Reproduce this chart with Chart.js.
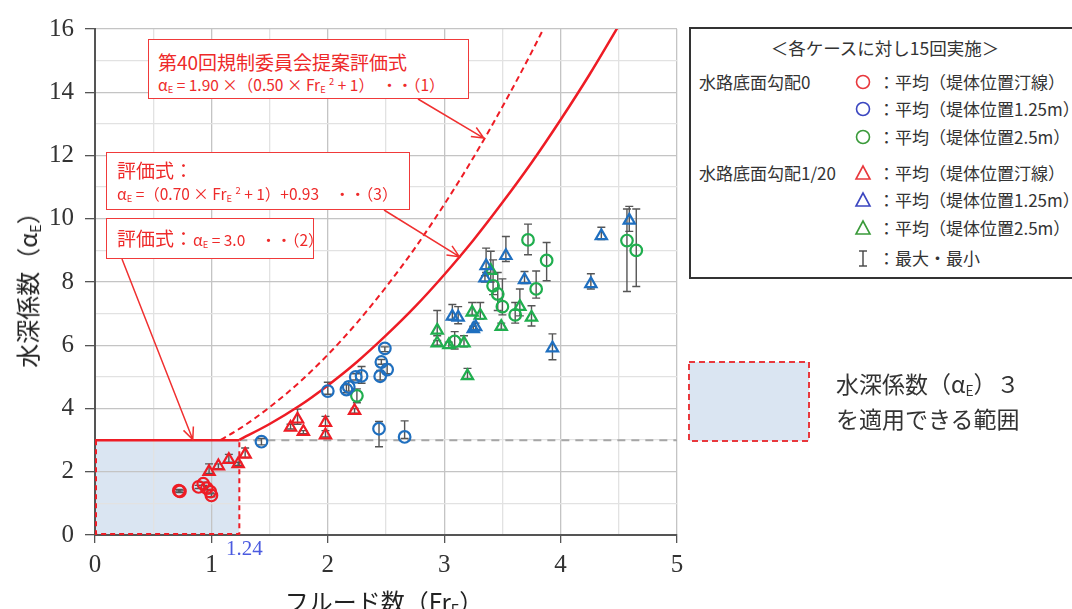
<!DOCTYPE html>
<html><head><meta charset="utf-8">
<script src="https://cdn.jsdelivr.net/npm/chart.js@4.4.0/dist/chart.umd.min.js"></script>
<style>
body{margin:0;background:#fff;}
#wrap{position:relative;width:1072px;height:609px;overflow:hidden;background:#fff;}
canvas{position:absolute;left:0;top:0;}
.t{position:absolute;white-space:nowrap;font-family:"Noto Sans CJK JP","Noto Sans",sans-serif;}
.box{position:absolute;box-sizing:border-box;background:#fff;border:1.5px solid #f03a3a;}
.red{color:#ee2a2a;}
.lg{color:#333;font-size:17px;}
sub{font-size:0.6em;vertical-align:-0.25em;line-height:0;}
sup{font-size:0.6em;vertical-align:0.6em;line-height:0;}
</style></head>
<body><div id="wrap">
<canvas id="c" width="1072" height="609"></canvas>

<!-- annotation boxes -->
<div class="box" style="left:148px;top:39px;width:321px;height:60px;"></div>
<div class="t red" style="left:158px;top:49px;line-height:26px;font-size:19px;">第40回規制委員会提案評価式</div>
<div class="t red" style="left:158px;top:73px;line-height:22px;font-size:15.5px;">α<sub>E</sub> = 1.90 ×（0.50 × Fr<sub>E</sub> <sup>2</sup> + 1）　・・（1）</div>

<div class="box" style="left:106px;top:152px;width:304px;height:58px;"></div>
<div class="t red" style="left:117px;top:157px;line-height:26px;font-size:19px;">評価式：</div>
<div class="t red" style="left:117px;top:182px;line-height:22px;font-size:15.5px;">α<sub>E</sub> =（0.70 × Fr<sub>E</sub> <sup>2</sup> + 1）+0.93　・・（3）</div>

<div class="box" style="left:106px;top:218px;width:208px;height:41px;"></div>
<div class="t red" style="left:117px;top:225px;line-height:26px;font-size:19px;">評価式：<span style="font-size:15.5px;">α<sub>E</sub> = 3.0　・・（2）</span></div>

<!-- legend box -->
<div style="position:absolute;left:689px;top:27px;width:400px;height:252px;box-sizing:border-box;border:2px solid #333;background:#fff;"></div>
<div class="t lg" style="left:689px;width:392px;text-align:center;top:36px;line-height:24px;font-size:17.5px;">＜各ケースに対し15回実施＞</div>
<div class="t lg" style="left:699px;top:70px;line-height:24px;">水路底面勾配0</div>
<div class="t lg" style="left:699px;top:161px;line-height:24px;">水路底面勾配1/20</div>

<svg style="position:absolute;left:0;top:0;" width="1072" height="609">
  <circle cx="863" cy="82" r="6.5" fill="none" stroke="#e8383d" stroke-width="1.6"/>
  <circle cx="863" cy="109" r="6.5" fill="none" stroke="#3b46c0" stroke-width="1.6"/>
  <circle cx="863" cy="137" r="6.5" fill="none" stroke="#3a9a3a" stroke-width="1.6"/>
  <polygon points="863,166 856,179 870,179" fill="none" stroke="#e8383d" stroke-width="1.6"/>
  <polygon points="863,193 856,206 870,206" fill="none" stroke="#3b46c0" stroke-width="1.6"/>
  <polygon points="863,221 856,234 870,234" fill="none" stroke="#3a9a3a" stroke-width="1.6"/>
  <line x1="863" y1="251" x2="863" y2="266" stroke="#444" stroke-width="1.4"/>
  <line x1="859" y1="251" x2="867" y2="251" stroke="#444" stroke-width="1.4"/>
  <line x1="859" y1="266" x2="867" y2="266" stroke="#444" stroke-width="1.4"/>
  <rect x="689" y="362" width="120" height="79" fill="#dae5f2" stroke="#e8383d" stroke-width="2" stroke-dasharray="6,4"/>
</svg>
<div class="t lg" style="left:878px;top:70px;line-height:24px;">：平均（堤体位置汀線）</div>
<div class="t lg" style="left:878px;top:97px;line-height:24px;">：平均（堤体位置1.25m）</div>
<div class="t lg" style="left:878px;top:125px;line-height:24px;">：平均（堤体位置2.5m）</div>
<div class="t lg" style="left:878px;top:161px;line-height:24px;">：平均（堤体位置汀線）</div>
<div class="t lg" style="left:878px;top:188px;line-height:24px;">：平均（堤体位置1.25m）</div>
<div class="t lg" style="left:878px;top:216px;line-height:24px;">：平均（堤体位置2.5m）</div>
<div class="t lg" style="left:878px;top:246px;line-height:24px;">：最大・最小</div>

<div class="t" style="left:836px;top:367px;line-height:32px;font-size:23px;color:#333;">水深係数（α<sub>E</sub>）３</div>
<div class="t" style="left:836px;top:402px;line-height:32px;font-size:23px;color:#333;">を適用できる範囲</div>

<!-- axis titles -->
<div class="t" style="left:27px;top:284px;transform:translate(-50%,-50%) rotate(-90deg);font-size:24px;color:#222;line-height:30px;">水深係数（α<sub>E</sub>）</div>
<div class="t" style="left:384px;top:586px;transform:translateX(-50%);font-size:24px;color:#222;line-height:30px;">フルード数（Fr<sub>E</sub>）</div>
</div>

<script>
// ---- data ----
// slope 0, circles
const s0ShoreX = [0.72, 0.73, 0.89, 0.93, 0.96, 0.99, 1.00];
const s0ShoreY = [1.40, 1.38, 1.52, 1.62, 1.48, 1.37, 1.25];
const s0ShoreMin = [1.36, 1.34, 1.47, 1.57, 1.44, 1.33, 1.21];
const s0ShoreMax = [1.44, 1.42, 1.57, 1.67, 1.53, 1.42, 1.30];

const s0Pos125X = [1.43, 2.00, 2.16, 2.18, 2.24, 2.29, 2.45, 2.46, 2.51, 2.49, 2.44, 2.66];
const s0Pos125Y = [2.95, 4.55, 4.60, 4.68, 5.00, 5.03, 5.02, 5.47, 5.23, 5.90, 3.36, 3.10];
const s0Pos125Min = [2.85, 4.45, 4.50, 4.55, 4.90, 4.80, 4.90, 5.40, 5.10, 5.80, 2.79, 3.05];
const s0Pos125Max = [3.05, 4.83, 4.75, 4.85, 5.10, 5.33, 5.20, 5.55, 5.40, 5.95, 3.59, 3.61];

const s0Pos25X = [2.25, 3.09, 3.42, 3.46, 3.50, 3.61, 3.72, 3.79, 3.88, 4.57, 4.65];
const s0Pos25Y = [4.40, 6.12, 7.88, 7.62, 7.22, 6.96, 9.33, 7.78, 8.68, 9.31, 9.00];
const s0Pos25Min = [4.18, 5.88, 7.60, 7.10, 6.96, 6.70, 8.86, 7.49, 8.04, 7.70, 7.86];
const s0Pos25Max = [4.62, 6.43, 8.70, 8.30, 8.10, 7.35, 9.83, 8.35, 9.25, 10.31, 10.31];

// slope 1/20, triangles
const s20ShoreX = [0.98, 1.06, 1.15, 1.23, 1.29, 1.68, 1.74, 1.79, 1.98, 1.98, 2.23];
const s20ShoreY = [2.00, 2.18, 2.38, 2.25, 2.55, 3.40, 3.66, 3.27, 3.55, 3.16, 3.93];
const s20ShoreMin = [1.95, 2.10, 2.30, 2.20, 2.45, 3.35, 3.50, 3.20, 3.45, 3.10, 3.85];
const s20ShoreMax = [2.25, 2.25, 2.55, 2.30, 2.75, 3.50, 3.98, 3.30, 3.75, 3.30, 4.00];

const s20Pos125X = [3.07, 3.12, 3.25, 3.27, 3.35, 3.36, 3.53, 3.69, 3.93, 4.26, 4.35, 4.59];
const s20Pos125Y = [6.91, 6.88, 6.52, 6.58, 8.12, 8.51, 8.83, 8.07, 5.91, 7.94, 9.46, 9.95];
const s20Pos125Min = [6.80, 6.68, 6.45, 6.50, 8.00, 8.30, 8.65, 7.95, 5.54, 7.78, 9.34, 9.60];
const s20Pos125Max = [7.29, 7.22, 6.60, 6.70, 8.20, 9.07, 9.44, 8.33, 6.36, 8.26, 9.73, 10.39];

const s20Pos25X = [2.94, 2.94, 3.04, 3.17, 3.20, 3.24, 3.31, 3.40, 3.49, 3.65, 3.75];
const s20Pos25Y = [6.47, 6.07, 6.01, 6.07, 5.03, 7.04, 6.94, 8.36, 6.59, 7.22, 6.88];
const s20Pos25Min = [6.30, 6.00, 5.90, 5.95, 4.95, 6.95, 6.83, 8.00, 6.50, 6.93, 6.61];
const s20Pos25Max = [7.10, 6.15, 6.10, 6.30, 5.27, 7.35, 7.35, 8.97, 6.70, 7.78, 7.25];

// evaluation curves
const curve1X = [1.08, 1.25, 1.5, 1.75, 2.0, 2.25, 2.5, 2.75, 3.0, 3.25, 3.5, 3.75, 4.0];
const curve1Y = [3.01, 3.38, 4.04, 4.81, 5.70, 6.71, 7.84, 9.08, 10.45, 11.93, 13.54, 15.26, 17.10];
const curve3X = [1.24, 1.5, 1.75, 2.0, 2.25, 2.5, 2.75, 3.0, 3.25, 3.5, 3.75, 4.0, 4.25, 4.5];
const curve3Y = [3.01, 3.51, 4.07, 4.73, 5.47, 6.31, 7.22, 8.23, 9.32, 10.51, 11.77, 13.13, 14.57, 16.11];

// applicable range and threshold
const rangeFr = 1.24;
const rangeAlpha = 3.0;
const xTicks = [0, 1, 2, 3, 4, 5];
const yTicks = [0, 2, 4, 6, 8, 10, 12, 14, 16];

// arrows: start (page px of the callout box) -> end (data value)
const arrowEnds = [[3.34, 12.55], [3.13, 8.80], [0.84, 3.02]];
const arrowStarts = [[418, 99], [384, 210], [122, 259]];

// ---- chart ----
const RED = '#ee1c25', BLUE = '#1f6fbf', GREEN = '#1fae4e';
function pts(xs, ys){ return xs.map((x,i)=>({x, y: ys[i]})); }
function pointSet(label, xs, ys, mn, mx, color, style){
  return {type:'scatter', label, data: pts(xs, ys), errMin: mn, errMax: mx,
    pointStyle: style, radius: style==='triangle'?6.5:5.8, borderColor: color,
    backgroundColor: 'rgba(255,255,255,0)', borderWidth: 2.2, order: 1};
}

const plugin = {
  id: 'extras',
  beforeDraw(chart){
    const {ctx, scales:{x, y}} = chart;
    const x0 = x.getPixelForValue(0), x1 = x.getPixelForValue(rangeFr);
    const y0 = y.getPixelForValue(0), y1 = y.getPixelForValue(rangeAlpha);
    ctx.save(); ctx.fillStyle = '#dae5f2'; ctx.fillRect(x0, y1, x1-x0, y0-y1); ctx.restore();
  },
  beforeDatasetsDraw(chart){
    const {ctx, scales:{x, y}} = chart;
    const x0 = x.getPixelForValue(0), x1 = x.getPixelForValue(rangeFr);
    const y0 = y.getPixelForValue(0), y1 = y.getPixelForValue(rangeAlpha);
    const x5 = x.getPixelForValue(5);
    ctx.save();
    // gray dashed threshold continuation
    ctx.strokeStyle = '#a6a6a6'; ctx.lineWidth = 2; ctx.setLineDash([8,6]);
    ctx.beginPath(); ctx.moveTo(x1, y1); ctx.lineTo(x5, y1); ctx.stroke();
    // dashed red border (left, bottom, right)
    ctx.strokeStyle = RED; ctx.lineWidth = 2; ctx.setLineDash([5,4]);
    ctx.beginPath(); ctx.moveTo(x0+1, y1); ctx.lineTo(x0+1, y0-1); ctx.lineTo(x1, y0-1); ctx.lineTo(x1, y1); ctx.stroke();
    // solid red top (eq. 2)
    ctx.setLineDash([]); ctx.lineWidth = 2.5;
    ctx.beginPath(); ctx.moveTo(x0, y1); ctx.lineTo(x1, y1); ctx.stroke();
    // error bars
    ctx.strokeStyle = '#555'; ctx.lineWidth = 1.4;
    chart.data.datasets.forEach(ds => {
      if (!ds.errMin) return;
      ds.data.forEach((p, i) => {
        const px = x.getPixelForValue(p.x);
        const pa = y.getPixelForValue(ds.errMin[i]), pb = y.getPixelForValue(ds.errMax[i]);
        ctx.beginPath();
        ctx.moveTo(px, pa); ctx.lineTo(px, pb);
        ctx.moveTo(px-4, pa); ctx.lineTo(px+4, pa);
        ctx.moveTo(px-4, pb); ctx.lineTo(px+4, pb);
        ctx.stroke();
      });
    });
    ctx.restore();
  },
  afterDatasetsDraw(chart){
    const {ctx, scales:{x, y}} = chart;
    ctx.save();
    ctx.strokeStyle = '#f03030'; ctx.lineWidth = 1.5;
    arrowEnds.forEach((e, i) => {
      const sx = arrowStarts[i][0], sy = arrowStarts[i][1];
      const ex = x.getPixelForValue(e[0]), ey = y.getPixelForValue(e[1]);
      const a = Math.atan2(ey-sy, ex-sx), L = 13, w = 0.42;
      ctx.beginPath(); ctx.moveTo(sx, sy); ctx.lineTo(ex, ey);
      ctx.moveTo(ex - L*Math.cos(a-w), ey - L*Math.sin(a-w)); ctx.lineTo(ex, ey);
      ctx.lineTo(ex - L*Math.cos(a+w), ey - L*Math.sin(a+w));
      ctx.stroke();
    });
    // 1.24 label
    ctx.fillStyle = '#4a5ae0'; ctx.font = '21px "Liberation Serif", serif';
    ctx.textAlign = 'center'; ctx.textBaseline = 'middle';
    ctx.fillText(String(rangeFr), x.getPixelForValue(rangeFr) + 5, y.getPixelForValue(0) + 14);
    ctx.restore();
  }
};

new Chart(document.getElementById('c'), {
  data: {
    datasets: [
      pointSet('s0 shore', s0ShoreX, s0ShoreY, s0ShoreMin, s0ShoreMax, RED, 'circle'),
      pointSet('s0 1.25', s0Pos125X, s0Pos125Y, s0Pos125Min, s0Pos125Max, BLUE, 'circle'),
      pointSet('s0 2.5', s0Pos25X, s0Pos25Y, s0Pos25Min, s0Pos25Max, GREEN, 'circle'),
      pointSet('s20 shore', s20ShoreX, s20ShoreY, s20ShoreMin, s20ShoreMax, RED, 'triangle'),
      pointSet('s20 1.25', s20Pos125X, s20Pos125Y, s20Pos125Min, s20Pos125Max, BLUE, 'triangle'),
      pointSet('s20 2.5', s20Pos25X, s20Pos25Y, s20Pos25Min, s20Pos25Max, GREEN, 'triangle'),
      {type:'line', label:'(1)', data: pts(curve1X, curve1Y), borderColor: RED, borderWidth: 2,
       borderDash: [6,4], pointRadius: 0, cubicInterpolationMode: 'monotone', fill: false, order: 5},
      {type:'line', label:'(3)', data: pts(curve3X, curve3Y), borderColor: RED, borderWidth: 2.5,
       pointRadius: 0, cubicInterpolationMode: 'monotone', fill: false, order: 5}
    ]
  },
  options: {
    responsive: false, animation: false, devicePixelRatio: 1,
    layout: {padding: {left: 0, right: 395, top: 29, bottom: 0}},
    plugins: {legend: {display: false}, tooltip: {enabled: false}},
    scales: {
      x: {type: 'linear', min: 0, max: 5,
        afterFit(s){ s.height = 74; },
        afterBuildTicks(s){ s.ticks = [0,0.5,1,1.5,2,2.5,3,3.5,4,4.5,5].map(v=>({value:v})); },
        ticks: {autoSkip: false, maxRotation: 0, padding: 7, color: '#333',
          font: {family: '"Liberation Serif", serif', size: 25},
          callback: v => xTicks.includes(v) ? String(v) : ''},
        grid: {color: c => (c.tick && Number.isInteger(c.tick.value)) ? '#c4c4c4' : '#e2e2e2',
          lineWidth: 1.3, tickLength: 8,
          tickColor: c => (c.tick && Number.isInteger(c.tick.value)) ? '#555' : 'rgba(0,0,0,0)'},
        border: {color: '#555', width: 2}
      },
      y: {type: 'linear', min: 0, max: 16,
        afterFit(s){ s.width = 95; },
        afterBuildTicks(s){ const t=[]; for(let v=0; v<=16; v++) t.push({value:v}); s.ticks = t; },
        ticks: {autoSkip: false, padding: 11, color: '#333',
          font: {family: '"Liberation Serif", serif', size: 25},
          callback: v => yTicks.includes(v) ? String(v) : ''},
        grid: {color: c => (c.tick && c.tick.value % 2 === 0) ? '#c4c4c4' : '#e2e2e2',
          lineWidth: 1.3, tickLength: 10,
          tickColor: c => (c.tick && c.tick.value % 2 === 0) ? '#555' : 'rgba(0,0,0,0)'},
        border: {color: '#555', width: 2}
      }
    }
  },
  plugins: [plugin]
});
</script>
</body></html>
